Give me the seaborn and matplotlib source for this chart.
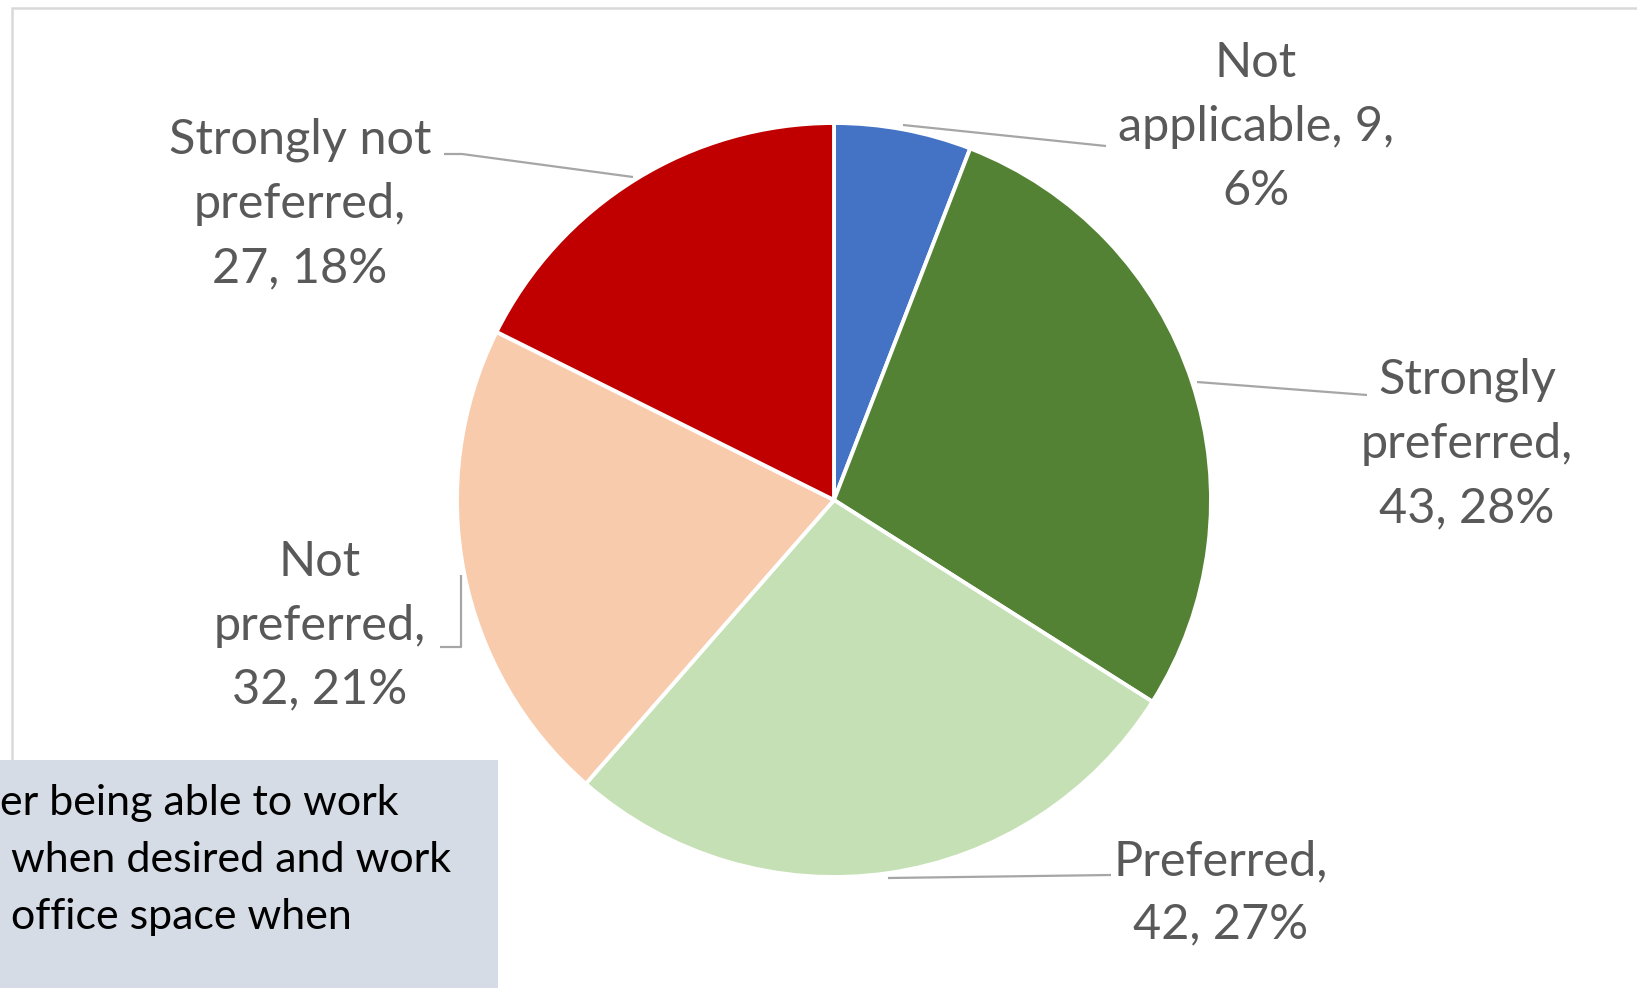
import matplotlib
matplotlib.use("Agg")
import matplotlib.pyplot as plt
import seaborn as sns
from matplotlib.patches import Rectangle

sns.set_theme(style="white")
plt.rcParams['font.family'] = ['Lato', 'DejaVu Sans']

# ---- data ----
categories = ["Not applicable", "Strongly preferred", "Preferred", "Not preferred", "Strongly not preferred"]
counts = [9, 43, 42, 32, 27]
percents = [6, 28, 27, 21, 18]
label_texts = [
    "Not\napplicable, 9,\n6%",
    "Strongly\npreferred,\n43, 28%",
    "Preferred,\n42, 27%",
    "Not\npreferred,\n32, 21%",
    "Strongly not\npreferred,\n27, 18%",
]
colors = ["#4472C4", "#548235", "#C5E0B4", "#F8CBAD", "#C00000"]
box_lines = ["er being able to work", " when desired and work", " office space when"]

W, H = 1637, 988
fig = plt.figure(figsize=(W / 100, H / 100), dpi=100)
ax = fig.add_axes([0, 0, 1, 1])

def Y(y):
    return H - y

# outer chart frame
ax.add_patch(Rectangle((12, Y(1100)), 1800, 1100 - 8, fill=False,
                       edgecolor="#D9D9D9", linewidth=1.8, zorder=0))

# pie
ax.pie(counts, colors=colors, startangle=90, counterclock=False,
       center=(834, Y(500)), radius=377,
       wedgeprops=dict(edgecolor="white", linewidth=2.8))
ax.set_xlim(0, W)
ax.set_ylim(0, H)
ax.set_aspect("equal")
ax.axis("off")

# data labels
lab_pos = [(1256, 127), (1467, 444), (1221, 893), (320, 626), (300, 204)]
for txt, (x, y) in zip(label_texts, lab_pos):
    ax.text(x, Y(y), txt, ha="center", va="center", multialignment="center",
            fontsize=35, color="#595959", linespacing=1.55)

# leader lines
lc = "#A6A6A6"
leaders = [
    [(903, 125), (1106, 146)],
    [(1197, 382), (1367, 395)],
    [(888, 878), (1111, 875)],
    [(461, 575), (461, 647), (440, 647)],
    [(444, 154), (462, 154), (633, 177)],
]
for pts in leaders:
    ax.plot([p[0] for p in pts], [Y(p[1]) for p in pts], color=lc, lw=1.6,
            solid_capstyle="butt")

# text box bottom-left
ax.add_patch(Rectangle((0, Y(988)), 498, 988 - 760, facecolor="#D6DCE5",
                       edgecolor="none", zorder=5))
for i, line in enumerate(box_lines):
    ax.text(0, Y(803 + 57 * i), line, ha="left", va="center",
            fontsize=31, color="#000000", zorder=6)

fig.savefig("out.png", dpi=100)
